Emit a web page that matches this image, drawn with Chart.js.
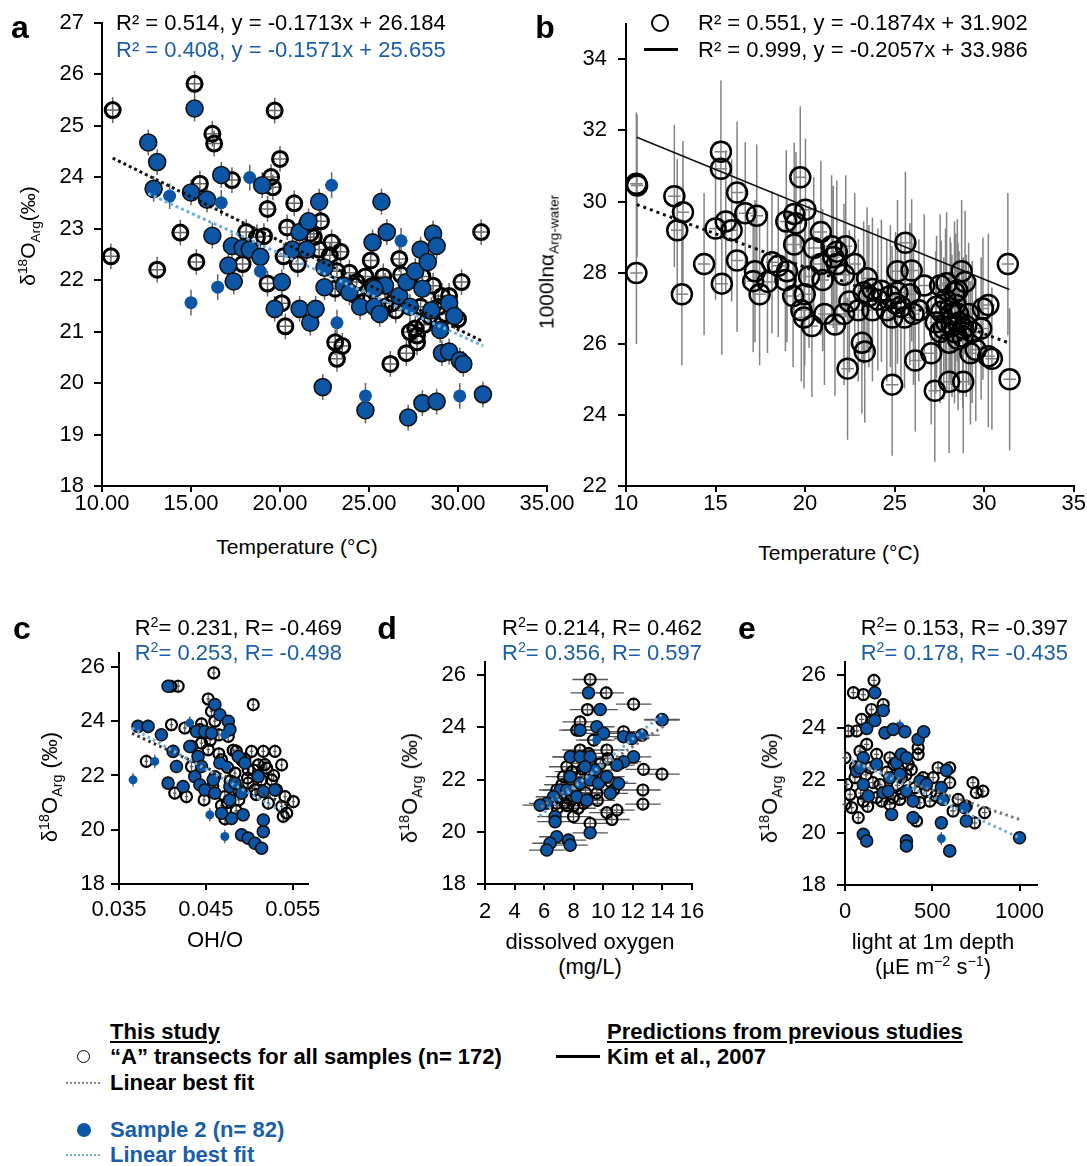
<!DOCTYPE html>
<html>
<head>
<meta charset="utf-8">
<script src="https://cdn.jsdelivr.net/npm/chart.js@4.4.0/dist/chart.umd.min.js"></script>
<style>
  body { margin: 0; background: #fff; }
  #page { position: relative; width: 1087px; height: 1166px; overflow: hidden; font-family: 'Liberation Sans', Arial, sans-serif; color: #000; }
  canvas { position: absolute; }
  .t { position: absolute; white-space: nowrap; line-height: 1; transform: translateY(-50%); }
  .r { position: absolute; white-space: nowrap; line-height: 1; transform: translate(-100%, -50%); }
  .c { position: absolute; white-space: nowrap; line-height: 1; transform: translate(-50%, -50%); }
  .rot { position: absolute; white-space: nowrap; line-height: 1; transform: translate(-50%, -50%) rotate(-90deg); }
  .blue { color: #1a5ea9; }
  .letter { font-weight: bold; font-size: 32px; }
  .ann { font-size: 22px; }
  sub, sup { font-size: 65%; line-height: 0; }
  .leg { position: absolute; white-space: nowrap; line-height: 1; transform: translateY(-50%); font-family: 'Liberation Sans Narrow', 'Arial Narrow', 'Liberation Sans', sans-serif; font-weight: bold; font-size: 22px; }
  .u { text-decoration: underline; text-underline-offset: 2px; }
</style>
</head>
<body>
<div id="page">
  <canvas id="chartA"></canvas>
  <canvas id="chartB"></canvas>
  <canvas id="chartC"></canvas>
  <canvas id="chartD"></canvas>
  <canvas id="chartE"></canvas>

  <!-- panel letters -->
  <div class="c letter" style="left:20px; top:27px;">a</div>
  <div class="c letter" style="left:545px; top:27px;">b</div>
  <div class="c letter" style="left:22px; top:628px;">c</div>
  <div class="c letter" style="left:387px; top:628px;">d</div>
  <div class="c letter" style="left:747px; top:628px;">e</div>

  <!-- fit annotations -->
  <div class="t ann" style="left:116px; top:23px;">R² = 0.514, y = -0.1713x + 26.184</div>
  <div class="t ann blue" style="left:116px; top:50px;">R² = 0.408, y = -0.1571x + 25.655</div>
  <div style="position:absolute; left:651px; top:14px; width:14px; height:14px; border:2px solid #000; border-radius:50%;"></div>
  <div style="position:absolute; left:644px; top:48px; width:34px; height:3px; background:#000;"></div>
  <div class="t ann" style="left:698px; top:23px;">R² = 0.551, y = -0.1874x + 31.902</div>
  <div class="t ann" style="left:698px; top:50px;">R² = 0.999, y = -0.2057x + 33.986</div>
  <div class="r ann" style="left:342px; top:628px;">R<sup>2</sup>= 0.231, R= -0.469</div>
  <div class="r ann blue" style="left:342px; top:653px;">R<sup>2</sup>= 0.253, R= -0.498</div>
  <div class="r ann" style="left:702px; top:628px;">R<sup>2</sup>= 0.214, R= 0.462</div>
  <div class="r ann blue" style="left:702px; top:653px;">R<sup>2</sup>= 0.356, R= 0.597</div>
  <div class="r ann" style="left:1068px; top:628px;">R<sup>2</sup>= 0.153, R= -0.397</div>
  <div class="r ann blue" style="left:1068px; top:653px;">R<sup>2</sup>= 0.178, R= -0.435</div>

  <!-- axis titles -->
  <div class="rot" style="left:27px; top:236px; font-size:21px;">δ<sup>18</sup>O<sub>Arg</sub>(‰)</div>
  <div class="c" style="left:297px; top:546px; font-size:21px;">Temperature (°C)</div>
  <div class="rot" style="left:546px; top:262px; font-size:21px;">1000lnα<sub>Arg-water</sub></div>
  <div class="c" style="left:839px; top:552px; font-size:21px;">Temperature (°C)</div>
  <div class="rot" style="left:50px; top:787px; font-size:22px;">δ<sup>18</sup>O<sub>Arg</sub> (‰)</div>
  <div class="c" style="left:215px; top:940px; font-size:22px;">OH/O</div>
  <div class="rot" style="left:410px; top:788px; font-size:22px;">δ<sup>18</sup>O<sub>Arg</sub> (‰)</div>
  <div class="c" style="left:590px; top:942px; font-size:22px;">dissolved oxygen</div>
  <div class="c" style="left:590px; top:967px; font-size:22px;">(mg/L)</div>
  <div class="rot" style="left:770px; top:788px; font-size:22px;">δ<sup>18</sup>O<sub>Arg</sub> (‰)</div>
  <div class="c" style="left:933px; top:942px; font-size:22px;">light at 1m depth</div>
  <div class="c" style="left:933px; top:967px; font-size:22px;">(µE m<sup>−2</sup> s<sup>−1</sup>)</div>

  <!-- legend -->
  <div class="leg u" style="left:110px; top:1032px;">This study</div>
  <div style="position:absolute; left:77px; top:1050px; width:11px; height:11px; border:1.8px solid #000; border-radius:50%;"></div>
  <div class="leg" style="left:110px; top:1057px;">“A” transects for all samples (n= 172)</div>
  <div style="position:absolute; left:66px; top:1082px; width:34px; height:2px; background:repeating-linear-gradient(90deg, #888 0 2px, transparent 2px 4px);"></div>
  <div class="leg" style="left:110px; top:1083px;">Linear best fit</div>
  <div style="position:absolute; left:77px; top:1123px; width:14px; height:14px; background:#0d56a6; border-radius:50%;"></div>
  <div class="leg blue" style="left:110px; top:1130px;">Sample 2 (n= 82)</div>
  <div style="position:absolute; left:66px; top:1154px; width:34px; height:2px; background:repeating-linear-gradient(90deg, #6aaee0 0 2px, transparent 2px 4px);"></div>
  <div class="leg blue" style="left:110px; top:1155px;">Linear best fit</div>
  <div class="leg u" style="left:607px; top:1032px;">Predictions from previous studies</div>
  <div style="position:absolute; left:556px; top:1055px; width:44px; height:3px; background:#000;"></div>
  <div class="leg" style="left:607px; top:1057px;">Kim et al., 2007</div>
</div>

<script>
// Panel a: d18O vs temperature (open = all samples, blue = sample 2)
const aAllT = [10.6, 10.5, 13.1, 14.4, 15.2, 15.3, 15.5, 16.2, 16.3, 17.3, 17.9, 18.1, 18.7, 19.1, 19.5, 19.6, 19.3, 19.7, 20.0, 19.3,
  20.1, 20.3, 20.2, 20.4, 20.8, 21.0, 21.5, 21.9, 21.7, 22.3, 22.2, 22.9, 22.8, 23.4, 23.2, 23.1, 23.1, 23.5, 23.2, 23.9,
  24.3, 24.8, 25.1, 25.2, 25.8, 25.9, 26.2, 26.7, 26.8, 27.1, 27.3, 27.6, 27.7, 28.1, 28.4, 28.6, 29.1, 29.3, 30.0, 30.2,
  31.3, 28.0, 26.3, 27.7, 28.9, 29.5, 24.3, 25.5, 26.5, 24.7, 27.9];
const aAllV = [25.3, 22.46, 22.2, 22.92, 25.81, 22.35, 23.87, 24.84, 24.65, 23.94, 22.31, 22.93, 22.83, 22.85, 24.0, 23.8, 23.38, 25.29, 24.35, 21.93,
  21.55, 21.1, 22.46, 23.02, 23.49, 22.31, 23.07, 22.83, 22.9, 23.14, 22.59, 22.73, 22.48, 22.55, 22.17, 21.83, 20.79, 20.72, 20.47, 22.14,
  21.96, 22.07, 22.38, 21.89, 22.07, 21.48, 20.37, 22.41, 22.1, 20.58, 20.99, 21.06, 20.92, 21.13, 21.3, 21.89, 21.69, 21.34, 21.24, 21.96,
  22.93, 22.07, 21.55, 20.79, 21.48, 21.69, 21.69, 21.89, 21.41, 21.58, 21.48];
const aS2T = [12.6, 13.1, 12.9, 13.8, 15.0, 15.2, 15.0, 15.9, 16.2, 16.7, 16.7, 16.5, 17.1, 17.3, 17.4, 17.9, 18.3, 18.3, 18.9, 18.9,
  19.0, 19.7, 20.1, 20.7, 21.1, 21.1, 21.5, 21.6, 21.7, 22.0, 22.2, 22.4, 22.5, 22.5, 22.9, 23.2, 23.6, 23.9, 24.5, 24.8,
  24.8, 25.2, 25.3, 25.6, 25.7, 25.9, 26.0, 26.7, 26.8, 27.1, 27.2, 27.6, 27.9, 28.0, 28.0, 28.3, 28.6, 28.8, 28.8, 28.5,
  29.0, 29.1, 29.5, 29.5, 29.8, 30.1, 30.3, 30.1, 31.4, 25.3, 27.3];
const aS2V = [24.67, 24.29, 23.77, 23.63, 23.7, 25.33, 21.56, 23.56, 22.86, 24.04, 23.5, 21.86, 22.28, 22.66, 21.97, 22.62, 23.99, 22.59, 22.45, 22.17,
  23.84, 21.44, 21.96, 22.59, 21.44, 22.93, 22.59, 23.14, 21.17, 21.44, 23.52, 19.92, 22.24, 21.86, 23.84, 21.17, 21.89, 21.76, 21.48, 19.47,
  19.75, 22.73, 21.48, 21.34, 23.52, 21.89, 22.93, 21.69, 22.76, 21.96, 19.33, 22.17, 22.59, 21.83, 19.61, 22.35, 22.9, 22.66, 19.64, 21.41,
  21.03, 20.58, 20.61, 21.55, 21.3, 20.44, 20.37, 19.75, 19.78, 21.83, 21.48];
const aS2Solo = [3, 6, 10, 11, 16, 19, 34, 35, 40, 48, 67];
const aFitAll = [-0.1713, 26.184], aFitAllX = [10.6, 31.4];
const aFitS2 = [-0.1571, 25.655], aFitS2X = [12.6, 31.4];
const aXTicks = [10, 15, 20, 25, 30, 35];
const aYTicks = [18, 19, 20, 21, 22, 23, 24, 25, 26, 27];

// Panel b: 1000 ln alpha vs temperature
const bT = [10.58, 10.62, 10.58, 12.7, 12.86, 13.18, 13.12, 14.36, 15.0, 15.3, 15.3, 15.35, 15.57, 15.9, 16.2, 16.2, 16.66, 17.3, 17.2, 17.46,
  17.1, 17.9, 18.15, 18.5, 18.99, 18.9, 18.95, 19.39, 19.49, 19.39, 19.33, 19.73, 20.02, 19.79, 19.94, 19.98, 20.38, 20.22, 20.48, 20.88,
  20.88, 20.98, 21.08, 21.48, 21.67, 21.77, 22.17, 22.27, 22.17, 22.37, 22.47, 22.77, 23.17, 23.33, 23.46, 23.27, 23.76, 24.06, 24.76, 24.86,
  24.86, 25.16, 25.16, 25.55, 25.6, 25.95, 25.85, 26.05, 26.15, 26.65, 27.04, 27.24, 27.34, 27.74, 28.14, 28.04, 28.54, 28.74, 28.93, 28.83,
  29.23, 29.53, 29.83, 29.93, 30.23, 30.23, 30.43, 31.32, 31.42, 27.54, 27.84, 28.34, 28.54, 28.04, 28.83, 28.34, 29.13, 27.54, 29.33, 23.56,
  24.26, 24.56, 22.97, 23.76, 25.35, 26.35, 21.77, 21.57, 25.05, 27.9, 28.2, 28.6, 28.1, 27.6, 28.4, 28.8, 27.3, 29.0, 28.5, 27.9];
const bV = [30.5, 30.45, 27.99, 30.15, 29.19, 29.7, 27.39, 28.24, 29.24, 31.4, 30.92, 27.69, 29.44, 29.19, 30.25, 28.34, 29.67, 29.6, 28.04, 27.39,
  27.76, 27.74, 28.29, 28.19, 28.04, 27.79, 29.44, 29.65, 29.39, 28.79, 27.34, 30.68, 29.77, 26.94, 26.74, 27.39, 26.5, 27.89, 28.69, 29.14,
  28.24, 27.79, 26.84, 28.74, 26.54, 28.59, 27.94, 28.74, 26.84, 25.3, 27.19, 28.24, 26.03, 25.78, 27.84, 27.44, 27.54, 27.24, 27.34, 24.85,
  26.74, 28.04, 27.44, 26.74, 28.84, 28.06, 27.39, 26.84, 25.53, 27.64, 25.73, 24.68, 27.04, 26.43, 26.84, 24.93, 26.13, 28.04, 27.74, 24.93,
  25.73, 25.83, 26.43, 26.99, 27.09, 25.65, 25.58, 28.24, 25.0, 27.64, 27.24, 27.44, 26.84, 26.03, 26.43, 26.33, 26.84, 26.33, 26.33, 27.34,
  27.49, 26.94, 26.94, 26.94, 27.04, 26.94, 28.24, 28.44, 27.14, 26.6, 26.5, 26.6, 27.0, 26.9, 27.1, 26.2, 26.6, 26.5, 27.5, 27.7];
const bFit = [-0.1874, 31.902], bKim = [-0.2057, 33.986], bLineX = [10.6, 31.4];
const bXTicks = [10, 15, 20, 25, 30, 35];
const bYTicks = [22, 24, 26, 28, 30, 32, 34];

// Panel c: OH/O
const cAllX = [0.04592, 0.04096, 0.04181, 0.04527, 0.04565, 0.05046, 0.04604, 0.04104, 0.04258, 0.04431, 0.04488, 0.04815, 0.05027, 0.05162, 0.05296,
  0.05373, 0.05104, 0.052, 0.03815, 0.04142, 0.04277, 0.04604, 0.04681, 0.04912, 0.04988, 0.05142, 0.05258, 0.05315, 0.05412, 0.05508,
  0.05373, 0.05431, 0.05392, 0.04988, 0.04873, 0.04719, 0.04527, 0.04335, 0.0445, 0.04758, 0.05065, 0.04835, 0.0522,
  0.0465, 0.0475, 0.0485, 0.0495, 0.0505, 0.0498, 0.0478, 0.0458, 0.0448, 0.0468, 0.0488, 0.0508, 0.0518, 0.0528, 0.0455, 0.0445, 0.0465, 0.0475, 0.0485, 0.0472];
const cAllV = [25.78, 25.29, 25.29, 24.82, 24.36, 24.61, 24.0, 23.87, 23.75, 23.69, 23.56, 22.93, 22.89, 22.89, 22.89,
  22.39, 22.39, 22.27, 22.52, 21.35, 21.22, 21.96, 22.58, 22.58, 22.21, 21.84, 21.84, 21.47, 21.22, 21.04,
  20.86, 20.61, 20.49, 21.72, 21.47, 21.22, 22.95, 22.33, 23.19, 23.44, 21.47, 22.09, 20.98,
  22.8, 22.3, 22.9, 22.6, 22.2, 21.9, 21.8, 21.6, 21.1, 20.9, 21.1, 21.3, 22.4, 22.0, 23.3, 23.9, 23.5, 21.0, 20.7, 20.4];
const cS2X = [0.04065, 0.03719, 0.03835, 0.03988, 0.03662, 0.03912, 0.04123, 0.04162, 0.04065, 0.04238, 0.04315, 0.04335, 0.04392, 0.04488, 0.04565,
  0.04604, 0.04662, 0.04758, 0.04777, 0.04719, 0.0441, 0.0445, 0.04373, 0.04431, 0.04488, 0.04585, 0.04604, 0.04662, 0.0474, 0.04777,
  0.04777, 0.04835, 0.04873, 0.0495, 0.04912, 0.04796, 0.04681, 0.04546, 0.0493, 0.04719, 0.04912, 0.04988, 0.05065, 0.05142, 0.05162,
  0.05162, 0.05104, 0.05162, 0.05296, 0.04315];
const cS2V = [25.29, 23.81, 23.81, 23.5, 21.84, 22.52, 22.89, 22.33, 21.72, 21.59, 23.93, 23.07, 23.62, 23.62, 23.56,
  24.61, 24.24, 24.0, 23.69, 23.5, 22.7, 22.33, 21.96, 21.66, 21.47, 21.84, 21.35, 22.46, 22.33, 21.59,
  21.1, 21.72, 22.7, 22.46, 21.35, 20.42, 20.61, 20.55, 20.55, 19.75, 19.81, 19.69, 19.5, 19.32, 19.93,
  20.36, 21.96, 21.41, 21.47, 23.07];
const cS2Solo = [4, 5, 10, 19, 28, 37, 39];
const cFitAllX = [0.0365, 0.0548], cFitAllV = [23.55, 20.85];
const cFitS2X = [0.0365, 0.0535], cFitS2V = [23.75, 20.72];
const cXTicks = [0.035, 0.045, 0.055];
const cdeYTicks = [18, 20, 22, 24, 26];

// Panel d: dissolved oxygen
const dAllX = [9.11, 10.2, 8.93, 12.05, 8.43, 13.97, 11.37, 11.14, 12.72, 13.97, 12.68, 12.68, 10.92, 10.24, 10.58, 7.98, 9.11, 7.08, 6.85, 7.53,
  8.43, 9.11, 9.79, 7.31, 7.98, 9.56, 8.66, 10.69, 7.76, 9.34, 10.24, 6.85, 8.21, 8.43, 7.53,
  7.2, 7.6, 8.0, 8.8, 9.3, 9.8, 10.3, 8.6, 7.9, 9.0, 9.6, 10.5, 6.9, 7.4, 8.3];
const dAllV = [25.83, 25.32, 24.68, 24.89, 24.21, 24.3, 23.83, 22.62, 22.39, 22.21, 21.6, 21.06, 20.83, 20.73, 20.47, 20.58, 20.32, 21.34, 21.09, 21.0,
  23.13, 22.62, 22.11, 22.11, 21.6, 21.47, 21.09, 21.6, 22.87, 23.51, 23.13, 21.6, 23.89, 22.11, 22.49,
  21.8, 21.3, 21.0, 21.5, 22.0, 22.6, 22.8, 22.4, 22.3, 23.0, 21.2, 21.9, 20.9, 21.1, 20.9];
const dS2X = [9.0, 9.79, 8.43, 9.56, 10.02, 11.37, 11.93, 12.61, 13.97, 12.05, 11.37, 10.92, 11.03, 10.47, 7.76, 8.43, 9.11, 9.45, 7.76, 8.43,
  9.11, 9.68, 10.24, 7.08, 6.63, 6.18, 5.73, 8.21, 8.89, 7.53, 6.74, 6.74, 9.11, 6.85, 6.4, 6.18, 7.64, 7.76, 9.56, 8.77];
const dS2V = [25.32, 24.68, 23.89, 24.02, 23.77, 23.64, 23.57, 23.7, 24.28, 22.87, 22.68, 22.55, 21.85, 21.47, 22.87, 22.87, 22.87, 22.36, 22.11, 21.85,
  21.98, 21.85, 22.11, 21.6, 21.34, 21.09, 21.02, 21.34, 21.21, 21.6, 20.58, 20.39, 19.96, 19.81, 19.56, 19.3, 19.68, 19.49, 23.51, 22.49];
const dS2Solo = [38];
const dFitAllX = [5.8, 14.1], dFitAllV = [20.95, 24.05];
const dFitS2X = [5.7, 14.1], dFitS2V = [20.6, 24.55];
const dXTicks = [2, 4, 6, 8, 10, 12, 14, 16];

// Panel e: light at 1 m depth
const eAllX = [48, 105, 166, 219, 152, 95, 19, 67, 152, 124, 0, 86, 181, 257, 419, 419, 362, 533, 600, 600,
  505, 448, 324, 200, 57, 10, 29, 0, 38, 76, 105, 181, 276, 314, 429, 486, 543, 648, 733, 752,
  790, 800, 743, 695, 410, 619, 257, 143, 467,
  60, 120, 160, 240, 300, 350, 400, 380, 90, 130, 210, 280, 330, 460, 520];
const eAllV = [25.33, 25.26, 25.8, 24.88, 24.69, 24.31, 23.87, 23.87, 24.25, 23.36, 22.85, 23.1, 22.98, 22.85, 22.98, 23.23, 22.6, 22.47, 22.47, 21.9,
  22.09, 22.09, 22.09, 21.83, 22.09, 21.83, 21.45, 21.07, 20.95, 20.57, 21.2, 21.33, 21.33, 21.26, 21.14, 21.2, 21.33, 21.26, 21.9, 21.52,
  21.58, 20.76, 20.37, 21.01, 20.44, 20.82, 21.07, 22.47, 21.58,
  22.5, 22.2, 21.9, 22.3, 21.8, 22.2, 21.7, 22.4, 21.5, 21.0, 21.2, 22.6, 21.5, 21.9, 21.4];
const eS2X = [171, 219, 124, 171, 229, 314, 276, 343, 419, 451, 105, 67, 105, 133, 86, 181, 219, 257, 295, 324,
  352, 314, 352, 390, 429, 467, 552, 581, 562, 686, 695, 105, 124, 352, 352, 390, 552, 552, 600, 1000, 267, 248];
const eS2V = [25.33, 24.65, 23.97, 24.27, 23.8, 24.06, 23.93, 23.84, 23.55, 23.84, 22.85, 22.34, 21.83, 21.39, 22.47, 22.6, 21.52, 22.09, 22.66, 22.98,
  22.85, 22.22, 21.58, 21.2, 21.96, 21.83, 21.71, 22.37, 21.26, 20.95, 20.44, 19.93, 19.68, 19.68, 19.49, 20.57, 20.37, 19.77, 19.3, 19.8, 20.69, 21.58];
const eS2Solo = [5, 37];
const eFitAllX = [40, 1000], eFitAllV = [22.66, 20.5];
const eFitS2X = [40, 1000], eFitS2V = [22.75, 19.8];
const eXTicks = [0, 500, 1000];

const BLUE = '#0d56a6';
const FIT_BLUE = '#6aaee0';

const pts = (xs, ys) => xs.map((x, i) => ({ x: x, y: ys[i] }));
const eqLine = (xs, coef) => xs.map(x => ({ x: x, y: coef[0] * x + coef[1] }));

// error bars drawn under the markers
const errorBars = {
    id: 'errorBars',
    beforeDatasetsDraw(chart) {
        const { ctx, scales } = chart;
        chart.data.datasets.forEach(ds => {
            if (!ds.err) return;
            ctx.save();
            ctx.strokeStyle = ds.err.color;
            ctx.lineWidth = ds.err.width;
            ctx.beginPath();
            ds.data.forEach(p => {
                const px = scales.x.getPixelForValue(p.x);
                const py = scales.y.getPixelForValue(p.y);
                ctx.moveTo(px, scales.y.getPixelForValue(p.y - ds.err.y));
                ctx.lineTo(px, scales.y.getPixelForValue(p.y + ds.err.y));
                ctx.moveTo(scales.x.getPixelForValue(p.x - ds.err.x), py);
                ctx.lineTo(scales.x.getPixelForValue(p.x + ds.err.x), py);
            });
            ctx.stroke();
            ctx.restore();
        });
    }
};

function axis(ax, size, horizontal) {
    return {
        type: 'linear',
        min: ax.min,
        max: ax.max,
        afterFit: s => { if (horizontal) s.height = size; else s.width = size; },
        afterBuildTicks: s => { s.ticks = ax.ticks.map(v => ({ value: v })); },
        grid: { drawOnChartArea: false, drawTicks: true, tickLength: ax.tickLen, color: '#000', lineWidth: 2 },
        border: { color: '#000', width: 2 },
        ticks: {
            padding: ax.pad,
            color: '#000',
            autoSkip: false,
            maxRotation: 0,
            font: { family: 'Liberation Sans', size: 22, lineHeight: 1 },
            callback: v => ax.fmt ? ax.fmt(v) : String(v)
        }
    };
}

function makePanel(id, box, area, datasets, xAx, yAx) {
    const cv = document.getElementById(id);
    cv.width = box.w;
    cv.height = box.h;
    cv.style.left = box.left + 'px';
    cv.style.top = box.top + 'px';
    new Chart(cv, {
        type: 'scatter',
        data: { datasets: datasets },
        options: {
            responsive: false,
            animation: false,
            layout: { padding: { left: 0, top: area.t - box.top, right: box.left + box.w - area.r, bottom: 0 } },
            plugins: { legend: { display: false }, tooltip: { enabled: false } },
            scales: {
                x: axis(xAx, box.top + box.h - area.b, true),
                y: axis(yAx, area.l - box.left, false)
            }
        },
        plugins: [errorBars]
    });
}

function fitSet(data, color, width, dash) {
    return { data: data, showLine: true, borderColor: color, borderWidth: width, borderDash: dash, pointRadius: 0, borderCapStyle: 'butt' };
}

function openSet(data, r, bw, err) {
    return { data: data, pointRadius: r, pointBorderWidth: bw, pointBorderColor: '#000', pointBackgroundColor: 'rgba(0,0,0,0)', err: err };
}

function blueSet(data, solo, r, rSolo, err) {
    return {
        data: data,
        pointBackgroundColor: BLUE,
        pointBorderColor: '#111',
        pointRadius: c => solo.includes(c.dataIndex) ? rSolo : r,
        pointBorderWidth: c => solo.includes(c.dataIndex) ? 0 : 1.6,
        err: err
    };
}

// panel a
makePanel('chartA', { left: 0, top: 0, w: 600, h: 530 }, { l: 102, r: 547, t: 22.5, b: 486 }, [
    fitSet(eqLine(aFitS2X, aFitS2), FIT_BLUE, 3, [3, 3]),
    fitSet(eqLine(aFitAllX, aFitAll), '#111', 3, [3, 3]),
    blueSet(pts(aS2T, aS2V), aS2Solo, 8.5, 6.5, { x: 0.35, y: 0.25, color: '#666', width: 1.5 }),
    openSet(pts(aAllT, aAllV), 7.5, 3, { x: 0.35, y: 0.25, color: '#666', width: 1.5 })
], { min: 10, max: 35, ticks: aXTicks, tickLen: 6, pad: 1, fmt: v => v.toFixed(2) },
   { min: 18, max: 27, ticks: aYTicks, tickLen: 8, pad: 10 });

// panel b
makePanel('chartB', { left: 560, top: 0, w: 527, h: 530 }, { l: 626, r: 1075, t: 23.7, b: 486 }, [
    fitSet(eqLine(bLineX, bKim), '#111', 1.5, []),
    fitSet(eqLine(bLineX, bFit), '#111', 3, [3, 4]),
    openSet(pts(bT, bV), 10, 2.5, { x: 0.35, y: 2.0, color: 'rgba(90,90,90,0.75)', width: 1.5 })
], { min: 10, max: 35, ticks: bXTicks, tickLen: 6, pad: 1 },
   { min: 22, max: 35, ticks: bYTicks, tickLen: 8, pad: 11 });

// panel c
makePanel('chartC', { left: 0, top: 600, w: 345, h: 330 }, { l: 119, r: 308.3, t: 653.4, b: 884 }, [
    fitSet(pts(cFitS2X, cFitS2V), FIT_BLUE, 3, [2.5, 3.5]),
    fitSet(pts(cFitAllX, cFitAllV), '#333', 3, [2.5, 3.5]),
    blueSet(pts(cS2X, cS2V), cS2Solo, 6, 4.5, { x: 0.0002, y: 0.25, color: '#555', width: 1.3 }),
    openSet(pts(cAllX, cAllV), 5.5, 2.2, { x: 0.0002, y: 0.25, color: '#555', width: 1.3 })
], { min: 0.035, max: 0.0568, ticks: cXTicks, tickLen: 6, pad: 9, fmt: v => v.toFixed(3) },
   { min: 18, max: 26.5, ticks: cdeYTicks, tickLen: 8, pad: 6 });

// panel d
makePanel('chartD', { left: 360, top: 600, w: 360, h: 330 }, { l: 485, r: 692, t: 662, b: 884 }, [
    fitSet(pts(dFitS2X, dFitS2V), FIT_BLUE, 3, [2.5, 3.5]),
    fitSet(pts(dFitAllX, dFitAllV), '#777', 3, [2.5, 3.5]),
    blueSet(pts(dS2X, dS2V), dS2Solo, 6, 4.5, { x: 1.2, y: 0.25, color: '#555', width: 1.3 }),
    openSet(pts(dAllX, dAllV), 5.5, 2.2, { x: 1.2, y: 0.25, color: '#555', width: 1.3 })
], { min: 2, max: 16, ticks: dXTicks, tickLen: 6, pad: 11 },
   { min: 18, max: 26.5, ticks: cdeYTicks, tickLen: 8, pad: 11 });

// panel e
makePanel('chartE', { left: 720, top: 600, w: 367, h: 330 }, { l: 845, r: 1037, t: 662, b: 885 }, [
    fitSet(pts(eFitS2X, eFitS2V), FIT_BLUE, 3, [2.5, 3.5]),
    fitSet(pts(eFitAllX, eFitAllV), '#777', 3, [2.5, 3.5]),
    blueSet(pts(eS2X, eS2V), eS2Solo, 6, 4.5, { x: 15, y: 0.25, color: '#555', width: 1.3 }),
    openSet(pts(eAllX, eAllV), 5.5, 2.2, { x: 15, y: 0.25, color: '#555', width: 1.3 })
], { min: 0, max: 1100, ticks: eXTicks, tickLen: 6, pad: 10 },
   { min: 18, max: 26.5, ticks: cdeYTicks, tickLen: 8, pad: 11 });
</script>
</body>
</html>
